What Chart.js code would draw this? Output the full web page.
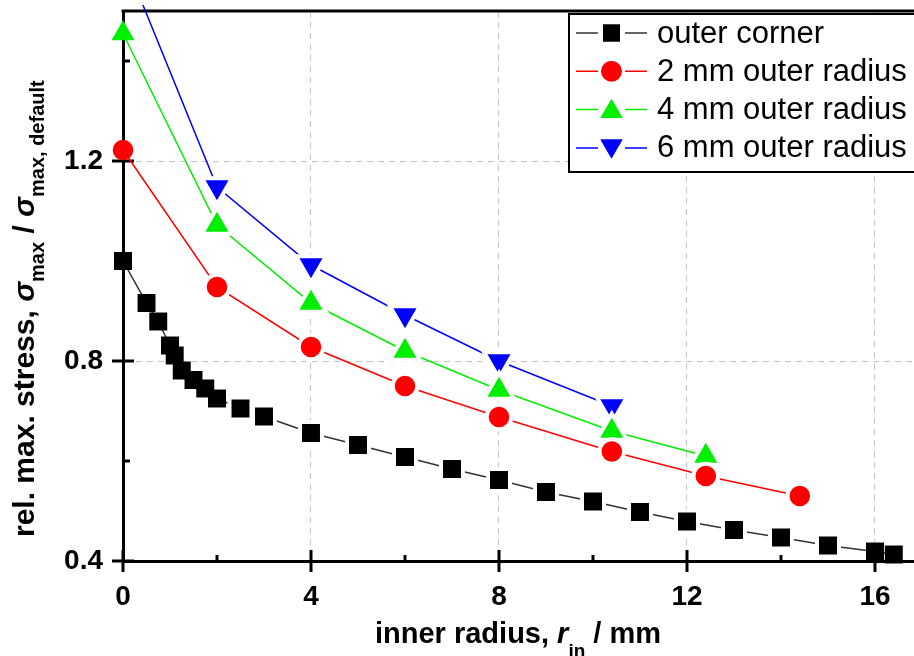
<!DOCTYPE html>
<html>
<head>
<meta charset="utf-8">
<script src="https://cdn.jsdelivr.net/npm/chart.js@4.4.0/dist/chart.umd.min.js"></script>
<style>
html, body { margin: 0; padding: 0; background: #fff; overflow: hidden; }
</style>
</head>
<body>
<canvas id="myChart" width="914" height="656"></canvas>
<script>
// inner radius r_in (mm) and relative max stress
const rCorner = [0, 0.5, 0.75, 1.0, 1.1, 1.25, 1.5, 1.75, 2.0, 2.5, 3, 4, 5, 6, 7, 8, 9, 10, 11, 12, 13, 14, 15, 16, 16.4];
const sCorner = [1.0, 0.916, 0.879, 0.831, 0.811, 0.781, 0.762, 0.745, 0.725, 0.705, 0.689, 0.656, 0.632, 0.608, 0.584, 0.562, 0.538, 0.519, 0.498, 0.479, 0.462, 0.447, 0.431, 0.419, 0.413];

const r2mm = [0, 2, 4, 6, 8, 10.4, 12.4, 14.4];
const s2mm = [1.222, 0.948, 0.828, 0.75, 0.688, 0.619, 0.57, 0.53];

const r4mm = [0, 2, 4, 6, 8, 10.4, 12.4];
const s4mm = [1.455, 1.072, 0.916, 0.82, 0.742, 0.66, 0.61];

const r6mm = [0, 2, 4, 6, 8, 10.4];
const s6mm = [1.61, 1.148, 0.992, 0.892, 0.8, 0.71];

const seriesLabels = ['outer corner', '2 mm outer radius', '4 mm outer radius', '6 mm outer radius'];

const xTicks = [0, 2, 4, 6, 8, 10, 12, 14, 16];
const xMajor = [0, 4, 8, 12, 16];
const yTicks = [0.4, 0.6, 0.8, 1.0, 1.2, 1.4];
const yMajor = [0.4, 0.8, 1.2];

const FONT = '"Liberation Sans", Arial, sans-serif';
const HALO = 4;

function pts(xs, ys) {
    return xs.map((x, i) => ({ x: x, y: ys[i] }));
}

// white outline around markers gives the small gap between line and symbol;
// skipped where symbols overlap each other or sit on an axis
function makeSet(i, xs, ys, color, lineColor, style, radius, grow, haloFrom, haloTo, rot, clip) {
    const halo = c => c.raw && c.raw.x > haloFrom && c.raw.x < haloTo;
    return {
        label: seriesLabels[i],
        data: pts(xs, ys),
        showLine: true,
        borderColor: lineColor,
        borderWidth: 1.5,
        backgroundColor: color,
        pointBackgroundColor: color,
        pointBorderColor: '#ffffff',
        pointBorderWidth: c => halo(c) ? HALO : 0,
        pointStyle: style,
        pointRadius: c => halo(c) ? radius + grow : radius,
        pointHoverRadius: c => halo(c) ? radius + grow : radius,
        pointRotation: rot,
        tension: 0,
        clip: clip
    };
}

const datasets = [
    makeSet(0, rCorner, sCorner, '#000000', '#333333', 'rect', 12.7, 2.83, 2.1, 15.5, 0, 20),
    makeSet(1, r2mm, s2mm, '#ff0000', '#ff0000', 'circle', 10.3, 2, 0.1, 99, 0, 20),
    makeSet(2, r4mm, s4mm, '#00ee00', '#00ee00', 'triangle', 13.3, 4, 0.1, 99, 0, 20),
    makeSet(3, r6mm, s6mm, '#0000ff', '#0000ff', 'triangle', 13.3, 4, 0.1, 99, 180, { left: 20, top: 6, right: 20, bottom: 20 })
];

function drawRuns(ctx, runs, x0, y0) {
    let x = x0;
    runs.forEach(r => {
        ctx.font = r.font;
        ctx.fillText(r.text, x, y0 + (r.dy || 0));
        x += ctx.measureText(r.text).width;
    });
}

const axisDecor = {
    id: 'axisDecor',
    beforeDatasetsDraw(chart) {
        const { ctx, chartArea: a, scales } = chart;
        ctx.save();
        ctx.strokeStyle = '#000';
        ctx.lineWidth = 3;
        ctx.beginPath();
        ctx.moveTo(a.left - 1.5, a.top);
        ctx.lineTo(a.right, a.top);
        xTicks.forEach(v => {
            const px = scales.x.getPixelForValue(v);
            const major = xMajor.includes(v);
            ctx.moveTo(px, a.bottom + (major ? 11 : 0));
            ctx.lineTo(px, a.bottom - (major ? 11 : 6));
        });
        yTicks.forEach(v => {
            const py = scales.y.getPixelForValue(v);
            const major = yMajor.includes(v);
            ctx.moveTo(a.left - (major ? 11 : 0), py);
            ctx.lineTo(a.left + (major ? 11 : 7), py);
        });
        ctx.stroke();
        ctx.restore();
    },
    afterDraw(chart) {
        const ctx = chart.ctx;
        ctx.save();
        ctx.fillStyle = '#000';
        ctx.textBaseline = 'alphabetic';

        // x axis title
        drawRuns(ctx, [
            { text: 'inner radius, ', font: 'bold 29px ' + FONT },
            { text: 'r', font: 'italic bold 29px ' + FONT },
            { text: 'in', font: 'bold 19px ' + FONT, dy: 14 },
            { text: ' / mm', font: 'bold 29px ' + FONT }
        ], 375, 643);

        // y axis title
        ctx.save();
        ctx.translate(34, 537);
        ctx.rotate(-Math.PI / 2);
        drawRuns(ctx, [
            { text: 'rel. max. stress, ', font: 'bold 30px ' + FONT },
            { text: 'σ', font: 'italic bold 30px ' + FONT },
            { text: 'max', font: 'bold 20px ' + FONT, dy: 10 },
            { text: ' / ', font: 'bold 30px ' + FONT },
            { text: 'σ', font: 'italic bold 30px ' + FONT },
            { text: 'max, default', font: 'bold 20px ' + FONT, dy: 10 }
        ], 0, 0);
        ctx.restore();

        // legend box
        ctx.fillStyle = '#fff';
        ctx.fillRect(569, 14, 360, 158);
        ctx.strokeStyle = '#000';
        ctx.lineWidth = 2;
        ctx.strokeRect(569, 14, 360, 158);
        const sizes = [12, 10.3, 12.7, 12.7];
        chart.data.datasets.forEach((ds, i) => {
            const cy = 33 + i * 38.3;
            ctx.strokeStyle = ds.borderColor;
            ctx.lineWidth = 1.5;
            ctx.beginPath();
            ctx.moveTo(576, cy); ctx.lineTo(598, cy);
            ctx.moveTo(625, cy); ctx.lineTo(647, cy);
            ctx.stroke();
            ctx.fillStyle = ds.pointBackgroundColor;
            Chart.helpers.drawPoint(ctx, {
                pointStyle: ds.pointStyle,
                radius: sizes[i],
                rotation: ds.pointRotation,
                borderWidth: 0
            }, 611.5, cy + (ds.pointStyle === 'triangle' ? (ds.pointRotation ? -2 : 2) : 0));
            ctx.fill();
            ctx.fillStyle = '#000';
            ctx.font = '31px ' + FONT;
            ctx.textBaseline = 'middle';
            ctx.fillText(ds.label, 657, cy + 1);
        });
        ctx.restore();
    }
};

function gridColor(majors, skip) {
    return c => (c.tick && majors.includes(c.tick.value) && c.tick.value !== skip) ? '#c4c4c4' : 'rgba(0,0,0,0)';
}

function noPad(s) {
    s.paddingTop = 0;
    s.paddingBottom = 0;
    s.paddingLeft = 0;
    s.paddingRight = 0;
}

const ctx = document.getElementById('myChart').getContext('2d');
const chart = new Chart(ctx, {
    type: 'scatter',
    data: { datasets: datasets },
    options: {
        responsive: false,
        animation: false,
        devicePixelRatio: 1,
        layout: { autoPadding: false, padding: { top: 11, right: 0, bottom: 0, left: 0 } },
        plugins: {
            legend: { display: false },
            tooltip: { enabled: false }
        },
        scales: {
            x: {
                type: 'linear',
                min: 0,
                max: 16.83,
                afterBuildTicks: s => { s.ticks = xTicks.map(v => ({ value: v })); },
                afterFit: s => { s.height = 95; noPad(s); },
                ticks: {
                    callback: v => xMajor.includes(v) ? String(v) : '',
                    font: { family: FONT, size: 28, weight: 'bold' },
                    color: '#000',
                    padding: 19,
                    maxRotation: 0,
                    autoSkip: false
                },
                grid: { color: gridColor(xMajor, 0), lineWidth: 1, drawTicks: false },
                border: { display: true, color: '#000', width: 3, dash: [6, 5] }
            },
            y: {
                type: 'linear',
                min: 0.4,
                max: 1.5,
                afterBuildTicks: s => { s.ticks = yTicks.map(v => ({ value: v })); },
                afterFit: s => { s.width = 123; noPad(s); },
                ticks: {
                    callback: v => yMajor.includes(v) ? v.toFixed(1) : '',
                    font: { family: FONT, size: 28, weight: 'bold' },
                    color: '#000',
                    padding: 20,
                    autoSkip: false
                },
                grid: { color: gridColor(yMajor, 0.4), lineWidth: 1, drawTicks: false },
                border: { display: true, color: '#000', width: 3, dash: [6, 5] }
            }
        }
    },
    plugins: [axisDecor]
});
</script>
</body>
</html>
